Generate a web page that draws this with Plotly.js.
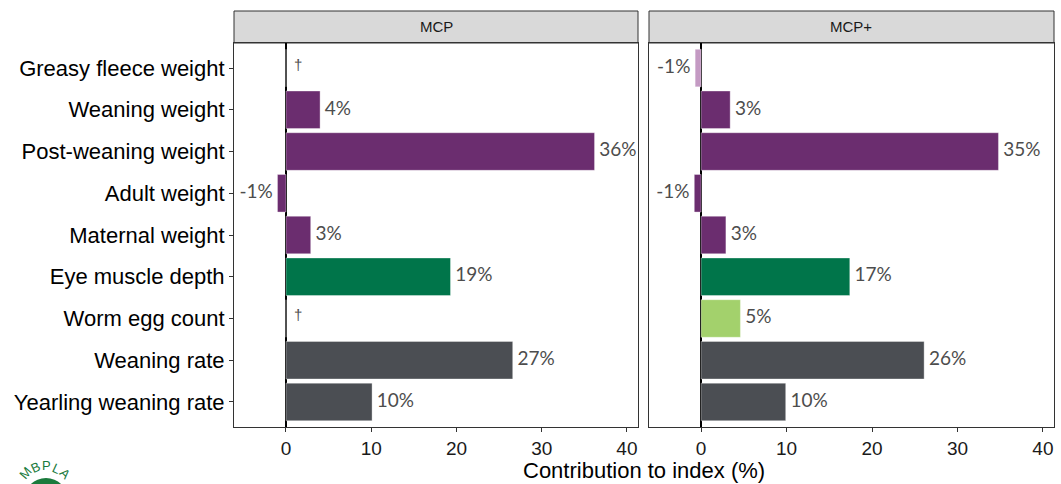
<!DOCTYPE html>
<html>
<head>
<meta charset="utf-8">
<script src="https://cdn.plot.ly/plotly-3.0.1.min.js"></script>
<style>html,body{margin:0;padding:0;background:#fff;}#chart{width:1061px;height:484px;}</style>
</head>
<body>
<div id="chart"></div>
<script>
// ---- data ----
const traits = ["Greasy fleece weight","Weaning weight","Post-weaning weight","Adult weight","Maternal weight","Eye muscle depth","Worm egg count","Weaning rate","Yearling weaning rate"];
const mcpValues = [null, 4.0, 36.2, -1.0, 2.9, 19.3, null, 26.6, 10.1];
const mcpLabels = ["†","4%","36%","-1%","3%","19%","†","27%","10%"];
const mcpPlusValues = [-0.7, 3.4, 34.8, -0.8, 2.9, 17.4, 4.6, 26.1, 9.9];
const mcpPlusLabels = ["-1%","3%","35%","-1%","3%","17%","5%","26%","10%"];
const mcpColors = ["#6b2d6f","#6b2d6f","#6b2d6f","#6b2d6f","#6b2d6f","#00754a","#a3d16c","#4b4e53","#4b4e53"];
const mcpPlusColors = ["#c49ac3","#6b2d6f","#6b2d6f","#6b2d6f","#6b2d6f","#00754a","#a3d16c","#4b4e53","#4b4e53"];
const panels = ["MCP","MCP+"];
const xTicks = [0,10,20,30,40];
const xTitle = "Contribution to index (%)";

const yIdx = traits.map((t,i)=>i);
const THIN = "\u2009";

function barTrace(vals, colors, xa, ya){
  return {type:'bar', orientation:'h', x: vals.map(v=>v===null?0:v), y: yIdx, xaxis:xa, yaxis:ya,
    width:0.9, marker:{color:colors, line:{color:'rgba(255,255,255,0.6)', width:0.6}}, hoverinfo:'skip', showlegend:false};
}
function labelTrace(vals, labels, xa, ya){
  const neg = vals.map(v => v!==null && v<0);
  const pos = neg.map(n => n ? 'middle left' : 'middle right');
  const xs = vals.map(v => v===null ? 0.95 : v);
  const txt = labels.map((l,i) => l==='†' ? l : (neg[i] ? l + THIN + THIN : THIN + THIN + l));
  const sizes = labels.map(l => l==='†' ? 15 : 19);
  const fams = labels.map(l => l==='†' ? '"Liberation Sans", sans-serif' : 'Lato, "Open Sans", sans-serif');
  return {type:'scatter', mode:'text', x: xs, y: yIdx.map((v,i)=> labels[i]==='†' ? v-0.05 : v), text: txt,
    textposition: pos, xaxis:xa, yaxis:ya, cliponaxis:false,
    textfont:{family:fams, size:sizes, color:'#4d4d4d'},
    hoverinfo:'skip', showlegend:false};
}

const data = [
  barTrace(mcpValues, mcpColors, 'x', 'y'),
  barTrace(mcpPlusValues, mcpPlusColors, 'x2', 'y2'),
  labelTrace(mcpValues, mcpLabels, 'x', 'y'),
  labelTrace(mcpPlusValues, mcpPlusLabels, 'x2', 'y2')
];

const xRange = [-6.1, 41.3];
const yRange = [8.6, -0.6];
const axisCommon = {range:xRange, tickvals:xTicks, ticktext:xTicks.map(String), ticks:'outside', ticklen:4, tickcolor:'#333',
  tickfont:{family:'"Liberation Sans", Arial, sans-serif', size:19, color:'#1a1a1a'},
  showgrid:false, zeroline:true, zerolinecolor:'#000', zerolinewidth:1.5, showline:true, mirror:true, linecolor:'#333', linewidth:1,
  fixedrange:true};

const P = (px)=> (px-234)/820, Q = (py)=> (427-py)/384;
const logoFont = {family:'"Liberation Sans", Arial', size:13, color:'#1a7a3c'};
function logoLetter(t, px, py, ang){
  return {xref:'paper', yref:'paper', x:P(px), y:Q(py), xanchor:'center', yanchor:'middle', text:t, textangle:ang, showarrow:false, font:logoFont};
}

const layout = {
  width:1061, height:484,
  margin:{l:234, r:7, t:43, b:57},
  paper_bgcolor:'#fff', plot_bgcolor:'#fff',
  bargap:0.1,
  xaxis: Object.assign({}, axisCommon, {domain:[0, 0.4927], anchor:'y'}),
  xaxis2: Object.assign({}, axisCommon, {domain:[0.5061, 1], anchor:'y2'}),
  yaxis: {range:yRange, tickvals:yIdx, ticktext:traits, ticks:'outside', ticklen:4, tickcolor:'#333',
    tickfont:{family:'"Liberation Sans", Arial, sans-serif', size:22, color:'#000'},
    showgrid:false, zeroline:false, showline:true, mirror:true, linecolor:'#333', linewidth:1, anchor:'x', domain:[0,1], fixedrange:true},
  yaxis2: {range:yRange, tickvals:yIdx, showticklabels:false, ticks:'', showgrid:false, zeroline:false,
    showline:true, mirror:true, linecolor:'#333', linewidth:1, anchor:'x2', domain:[0,1], matches:'y', fixedrange:true},
  shapes: [
    {type:'rect', xref:'paper', yref:'paper', x0:0, x1:0.4927, y0:1, y1:1.0833, fillcolor:'#d9d9d9', line:{color:'#333', width:1}, layer:'below'},
    {type:'rect', xref:'paper', yref:'paper', x0:0.5061, x1:1, y0:1, y1:1.0833, fillcolor:'#d9d9d9', line:{color:'#333', width:1}, layer:'below'},
    {type:'circle', xref:'paper', yref:'paper', x0:P(24), x1:P(68), y0:Q(522), y1:Q(478), fillcolor:'#1a7a3c', line:{width:0}}
  ],
  annotations: [
    {xref:'paper', yref:'paper', x:0.2464, y:1.0417, xanchor:'center', yanchor:'middle', text:panels[0], showarrow:false, font:{family:'"Liberation Sans", Arial, sans-serif', size:15, color:'#1a1a1a'}},
    {xref:'paper', yref:'paper', x:0.7530, y:1.0417, xanchor:'center', yanchor:'middle', text:panels[1], showarrow:false, font:{family:'"Liberation Sans", Arial, sans-serif', size:15, color:'#1a1a1a'}},
    {xref:'paper', yref:'paper', x:0.4997, y:-0.112, xanchor:'center', yanchor:'middle', text:xTitle, showarrow:false, font:{family:'"Liberation Sans", Arial, sans-serif', size:22, color:'#000'}},
    logoLetter('M', 25, 473, -50),
    logoLetter('B', 35, 467, -25),
    logoLetter('P', 46, 465, 0),
    logoLetter('L', 56, 468, 25),
    logoLetter('A', 65, 473, 45)
  ]
};

Plotly.newPlot('chart', data, layout, {displayModeBar:false, staticPlot:true});
</script>
</body>
</html>
